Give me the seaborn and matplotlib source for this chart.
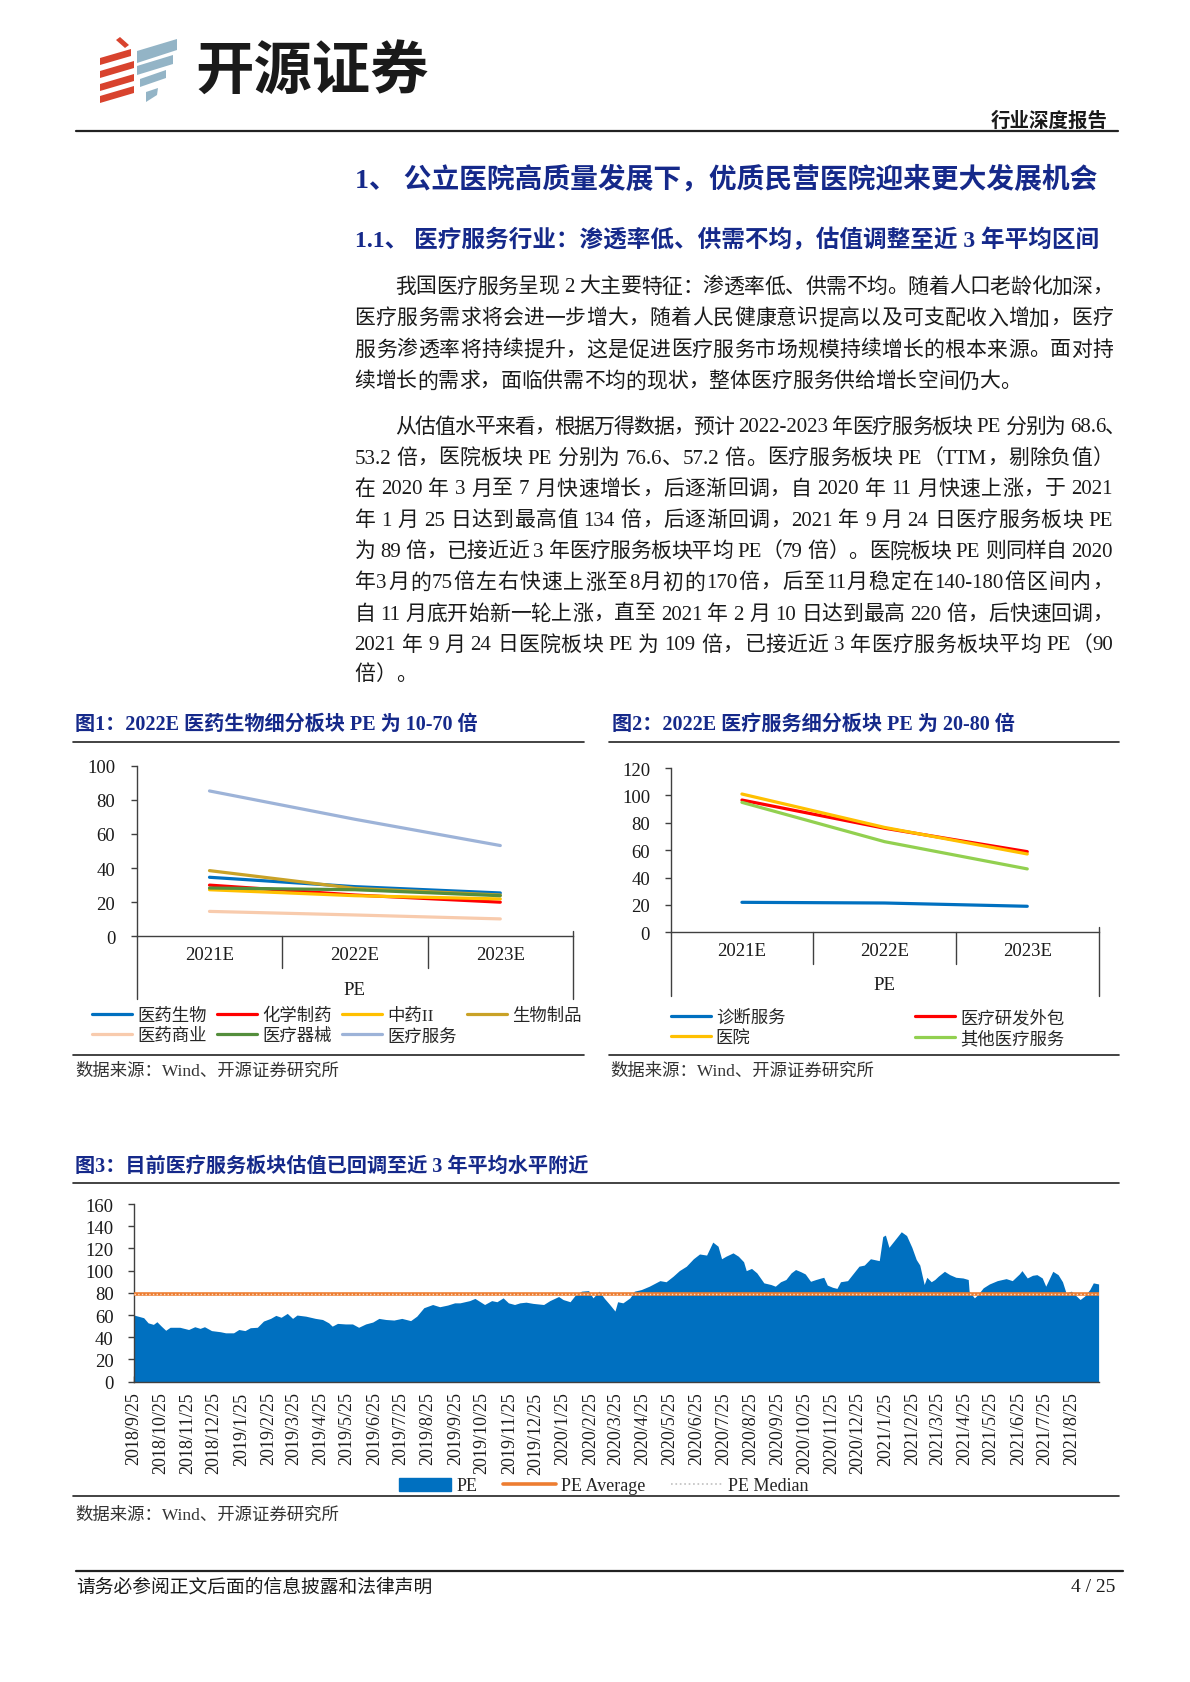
import re
import matplotlib
matplotlib.use('Agg')
import matplotlib.pyplot as plt
import matplotlib.transforms as mtransforms
from matplotlib.lines import Line2D
from matplotlib.patches import Polygon, Patch
import pandas as pd
import seaborn as sns

W, H = 1190, 1683

###############################################################################
# Data

# Figure 1: PE of pharma sub-sectors
years = ['2021E', '2022E', '2023E']
pharma_names = ['医药生物', '化学制药', '中药II', '生物制品', '医药商业', '医疗器械', '医疗服务']
pe_yiyao_shengwu = [34.6, 29.1, 25.4]
pe_huaxue_zhiyao = [30.0, 24.2, 20.0]
pe_zhongyao = [27.3, 23.8, 21.9]
pe_shengwu_zhipin = [38.5, 28.1, 24.2]
pe_yiyao_shangye = [14.6, 12.5, 10.2]
pe_yiliao_qixie = [28.3, 27.3, 23.8]
pe_yiliao_fuwu = [85.2, 68.6, 53.2]
pharma_colors = ['#0070C0', '#FF0000', '#FFC000', '#C9A227', '#F8CBAD', '#548E3C', '#9DB3D8']

# Figure 2: PE of medical service sub-sectors
service_names = ['诊断服务', '医疗研发外包', '医院', '其他医疗服务']
pe_zhenduan = [21.9, 21.4, 19.0]
pe_cro = [96.6, 76.0, 58.9]
pe_yiyuan = [101.0, 76.6, 57.2]
pe_qita = [94.9, 66.2, 46.3]
service_colors = ['#0070C0', '#FF0000', '#FFC000', '#92D050']

# Figure 3: medical service sector PE (TTM)
pe_dates = [
    '2018-09-25', '2018-10-06', '2018-10-11', '2018-10-17', '2018-10-21', '2018-10-26',
    '2018-10-31', '2018-11-05', '2018-11-16', '2018-11-26', '2018-12-03', '2018-12-09',
    '2018-12-14', '2018-12-22', '2019-01-01', '2019-01-07', '2019-01-16', '2019-01-22',
    '2019-01-29', '2019-02-04', '2019-02-12', '2019-02-19', '2019-02-27', '2019-03-05',
    '2019-03-11', '2019-03-18', '2019-03-24', '2019-03-29', '2019-04-08', '2019-04-19',
    '2019-04-27', '2019-05-04', '2019-05-08', '2019-05-14', '2019-05-23', '2019-05-31',
    '2019-06-07', '2019-06-15', '2019-06-23', '2019-06-30', '2019-07-08', '2019-07-17',
    '2019-07-26', '2019-08-05', '2019-08-12', '2019-08-20', '2019-08-30', '2019-09-07',
    '2019-09-16', '2019-09-24', '2019-09-30', '2019-10-11', '2019-10-17', '2019-10-22',
    '2019-10-28', '2019-11-05', '2019-11-11', '2019-11-18', '2019-11-24', '2019-12-01',
    '2019-12-07', '2019-12-14', '2019-12-22', '2020-01-03', '2020-01-10', '2020-01-20',
    '2020-01-25', '2020-02-02', '2020-02-08', '2020-02-15', '2020-02-23', '2020-02-28',
    '2020-03-06', '2020-03-12', '2020-03-18', '2020-03-24', '2020-03-27', '2020-04-02',
    '2020-04-10', '2020-04-15', '2020-04-23', '2020-05-02', '2020-05-14', '2020-05-21',
    '2020-05-29', '2020-06-05', '2020-06-13', '2020-06-21', '2020-06-28', '2020-07-06',
    '2020-07-13', '2020-07-19', '2020-07-23', '2020-07-28', '2020-08-05', '2020-08-11',
    '2020-08-17', '2020-08-20', '2020-08-26', '2020-09-01', '2020-09-09', '2020-09-17',
    '2020-09-22', '2020-09-28', '2020-10-04', '2020-10-10', '2020-10-15', '2020-10-21',
    '2020-10-26', '2020-11-01', '2020-11-07', '2020-11-13', '2020-11-16', '2020-11-20',
    '2020-11-26', '2020-12-01', '2020-12-05', '2020-12-13', '2020-12-19', '2020-12-26',
    '2021-01-01', '2021-01-08', '2021-01-18', '2021-01-22', '2021-01-25', '2021-01-29',
    '2021-02-04', '2021-02-12', '2021-02-18', '2021-02-24', '2021-03-01', '2021-03-05',
    '2021-03-10', '2021-03-13', '2021-03-18', '2021-03-22', '2021-03-26', '2021-04-02',
    '2021-04-08', '2021-04-15', '2021-04-23', '2021-04-29', '2021-04-30', '2021-05-06',
    '2021-05-10', '2021-05-16', '2021-05-23', '2021-06-01', '2021-06-11', '2021-06-18',
    '2021-06-26', '2021-06-29', '2021-07-05', '2021-07-11', '2021-07-16', '2021-07-22',
    '2021-07-26', '2021-08-03', '2021-08-09', '2021-08-14', '2021-08-18', '2021-08-24',
    '2021-08-30', '2021-09-03', '2021-09-08', '2021-09-14', '2021-09-18', '2021-09-24',
]
pe_values = [
    60.0, 57.6, 53.0, 51.6, 54.0, 50.0,
    46.3, 49.0, 49.0, 47.0, 49.5, 48.0,
    49.5, 46.0, 45.0, 44.0, 44.0, 47.0,
    46.0, 48.6, 49.0, 54.6, 57.0, 59.7,
    58.0, 61.5, 57.0, 60.0, 59.0, 57.0,
    56.0, 53.0, 50.0, 52.5, 52.0, 52.0,
    49.0, 52.0, 53.7, 57.0, 56.0, 55.5,
    57.0, 55.0, 59.0, 66.6, 69.5, 67.5,
    69.0, 71.0, 71.0, 73.0, 75.0, 72.5,
    69.5, 73.0, 72.0, 75.5, 71.0, 69.5,
    71.0, 71.6, 70.5, 69.5, 73.0, 76.7,
    74.0, 72.0, 78.0, 81.5, 82.0, 75.5,
    81.5, 75.0, 69.5, 63.6, 72.0, 71.0,
    75.5, 81.5, 83.0, 86.0, 91.0, 90.0,
    95.0, 100.0, 104.0, 110.7, 115.0, 114.0,
    125.7, 122.0, 110.7, 113.0, 116.0, 113.0,
    108.0, 100.0, 102.0, 98.0, 89.0, 87.5,
    86.0, 90.0, 92.0, 98.0, 101.0, 99.0,
    97.0, 90.4, 92.0, 93.4, 94.0, 87.0,
    85.0, 84.0, 90.0, 91.0, 97.0, 104.0,
    105.0, 110.7, 109.0, 130.7, 132.0, 121.0,
    127.0, 135.0, 131.6, 121.0, 110.0, 105.0,
    87.5, 94.0, 90.0, 92.0, 95.0, 99.4,
    96.4, 94.0, 93.4, 92.0, 81.5, 75.5,
    78.5, 84.5, 88.0, 91.0, 92.8, 91.0,
    97.0, 100.0, 93.4, 95.8, 96.4, 93.4,
    86.0, 99.4, 96.4, 90.0, 80.0, 81.5,
    77.0, 74.0, 77.0, 83.0, 89.0, 88.0,
]
pe_average = 79.0
pe_median = 78.8
pe_tick_labels = [
    '2018/9/25', '2018/10/25', '2018/11/25', '2018/12/25', '2019/1/25', '2019/2/25',
    '2019/3/25', '2019/4/25', '2019/5/25', '2019/6/25', '2019/7/25', '2019/8/25',
    '2019/9/25', '2019/10/25', '2019/11/25', '2019/12/25', '2020/1/25', '2020/2/25',
    '2020/3/25', '2020/4/25', '2020/5/25', '2020/6/25', '2020/7/25', '2020/8/25',
    '2020/9/25', '2020/10/25', '2020/11/25', '2020/12/25', '2021/1/25', '2021/2/25',
    '2021/3/25', '2021/4/25', '2021/5/25', '2021/6/25', '2021/7/25', '2021/8/25',
]

# Page text
para1 = [
    '我国医疗服务呈现 2 大主要特征：渗透率低、供需不均。随着人口老龄化加深，',
    '医疗服务需求将会进一步增大，随着人民健康意识提高以及可支配收入增加，医疗',
    '服务渗透率将持续提升，这是促进医疗服务市场规模持续增长的根本来源。面对持',
    '续增长的需求，面临供需不均的现状，整体医疗服务供给增长空间仍大。',
]
para2 = [
    '从估值水平来看，根据万得数据，预计 2022-2023 年医疗服务板块 PE 分别为 68.6、',
    '53.2 倍，医院板块 PE 分别为 76.6、57.2 倍。医疗服务板块 PE（TTM，剔除负值）',
    '在 2020 年 3 月至 7 月快速增长，后逐渐回调，自 2020 年 11 月快速上涨，于 2021',
    '年 1 月 25 日达到最高值 134 倍，后逐渐回调，2021 年 9 月 24 日医疗服务板块 PE',
    '为 89 倍，已接近近 3 年医疗服务板块平均 PE（79 倍）。医院板块 PE 则同样自 2020',
    '年3月的75倍左右快速上涨至8月初的170倍，后至11月稳定在140-180倍区间内，',
    '自 11 月底开始新一轮上涨，直至 2021 年 2 月 10 日达到最高 220 倍，后快速回调，',
    '2021 年 9 月 24 日医院板块 PE 为 109 倍，已接近近 3 年医疗服务板块平均 PE（90',
    '倍）。',
]

###############################################################################
# Page setup

sns.set_theme(style='white')
plt.rcParams['font.family'] = ['Liberation Serif', 'Noto Sans CJK SC', 'DejaVu Sans']
plt.rcParams['axes.unicode_minus'] = False

SERIF = ['Liberation Serif', 'Noto Sans CJK SC']
CJK = ['Noto Sans CJK SC', 'DejaVu Sans']
NAVY = '#15298A'
INK = '#1a1a1a'

fig = plt.figure(figsize=(W / 100, H / 100), dpi=100)
fig.patch.set_facecolor('white')
renderer = fig.canvas.get_renderer()


def fx(x):
    return x / W


def fy(y):
    return 1 - y / H


def rect(x0, y0, x1, y1):
    return [fx(x0), fy(y1), (x1 - x0) / W, (y1 - y0) / H]


def hline(x0, x1, y, lw=1.2, color='#222222'):
    fig.add_artist(Line2D([fx(x0), fx(x1)], [fy(y), fy(y)],
                          transform=fig.transFigure, lw=lw, color=color))


def text_line(s, x0, x1, y, size=15, justify=True):
    '''Draws one body line, spreading the tokens so it fills x0..x1.'''
    px = size / 72 * 100
    pieces = []
    for ci, chunk in enumerate(s.split(' ')):
        for ti, tok in enumerate(re.findall(r'[!-~]+|\S', chunk)):
            pieces.append((tok, ci > 0 and ti == 0))
    arts, widths = [], []
    for tok, _ in pieces:
        t = fig.text(0, fy(y), tok, fontsize=size, family=SERIF, color=INK, va='center')
        arts.append(t)
        if re.match(r'[!-~]', tok):
            widths.append(t.get_window_extent(renderer).width)
        else:
            widths.append(px)
    sp = px * 0.25
    natural = sum(widths) + sp * sum(p[1] for p in pieces)
    gaps = len(pieces) - 1
    extra = (x1 - x0 - natural) / gaps if (justify and gaps) else 0
    x = x0
    for i, (t, w) in enumerate(zip(arts, widths)):
        if i:
            x += extra + (sp if pieces[i][1] else 0)
        t.set_x(fx(x))
        x += w


###############################################################################
# Header

red_bars = [
    [(116, 41), (120, 38), (129, 46), (125, 49)],
    [(100, 66), (100, 59), (131, 50), (131, 57)],
    [(100, 79), (100, 72), (134, 62), (134, 69)],
    [(100, 92), (100, 85), (134, 75), (134, 82)],
    [(100, 104), (100, 97), (134, 87), (134, 94)],
]
blue_bars = [
    [(137, 64), (137, 52), (177, 40), (177, 51)],
    [(137, 76), (137, 67), (173, 56), (173, 65)],
    [(140, 88), (140, 80), (166, 71), (166, 79)],
    [(146, 103), (146, 93), (158, 89), (157, 96)],
]
for pts in red_bars:
    fig.add_artist(Polygon([(fx(a), fy(b)) for a, b in pts], closed=True,
                           transform=fig.transFigure, color='#D8432E', lw=0))
for pts in blue_bars:
    fig.add_artist(Polygon([(fx(a), fy(b)) for a, b in pts], closed=True,
                           transform=fig.transFigure, color='#93B4C6', lw=0))

fig.text(fx(195), fy(72), '开源证券', fontsize=42, weight='bold', family=CJK,
         color=INK, va='center')
fig.text(fx(1108), fy(121.7), '行业深度报告', fontsize=14, weight='bold', family=CJK,
         color=INK, ha='right', va='center')
hline(76, 1118, 132.3, lw=1.6)

fig.text(fx(355), fy(180), '1、 公立医院高质量发展下，优质民营医院迎来更大发展机会',
         fontsize=20, weight='bold', family=SERIF, color=NAVY, va='center')
fig.text(fx(355), fy(240), '1.1、 医疗服务行业：渗透率低、供需不均，估值调整至近 3 年平均区间',
         fontsize=17, weight='bold', family=SERIF, color=NAVY, va='center')

###############################################################################
# Body text

p1_y = [288, 319.5, 351, 382.5]
p2_y = [428, 459, 490, 521.5, 552.5, 583.5, 615, 646, 675]
for i, (line, y) in enumerate(zip(para1, p1_y)):
    text_line(line, 395 if i == 0 else 354.5, 1113, y, justify=i < len(para1) - 1)
for i, (line, y) in enumerate(zip(para2, p2_y)):
    right = 1126 if i == 0 else 1113
    text_line(line, 395 if i == 0 else 354.5, right, y, justify=i < len(para2) - 1)

###############################################################################
# Figures 1 and 2: line charts with a two-level category axis


def category_chart(box, names, series, colors, ymax, ystep, sep_low, out_low, pe_y,
                   legend_order, legend_anchor, ncol, colspace, ypad):
    ax = fig.add_axes(rect(*box))
    rows = [(n, yr, v) for n, vals in zip(names, series) for yr, v in zip(years, vals)]
    df = pd.DataFrame(rows, columns=['sector', 'year', 'pe'])
    sns.lineplot(data=df, x='year', y='pe', hue='sector', palette=dict(zip(names, colors)),
                 lw=2.3, sort=False, legend=False, ax=ax)
    ax.set_xlim(-0.5, len(years) - 0.5)
    ax.set_ylim(0, ymax)
    ax.set_yticks(range(0, ymax + 1, ystep))
    ax.set_ylabel('')
    ax.set_xlabel('PE', fontsize=13.5, family=SERIF, color=INK)
    ax.xaxis.label.set_va('center')
    ax.xaxis.set_label_coords(0.5, (box[3] - pe_y) / (box[3] - box[1]))
    for s in ['top', 'right']:
        ax.spines[s].set_visible(False)
    for s in ['left', 'bottom']:
        ax.spines[s].set_color('#404040')
        ax.spines[s].set_linewidth(1)
    ax.tick_params(axis='y', direction='out', length=4, width=1, color='#404040',
                   pad=ypad, labelsize=13.5, labelcolor=INK, left=True)
    ax.tick_params(axis='x', length=0, pad=7, labelsize=13.5, labelcolor=INK)
    for lab in ax.get_xticklabels() + ax.get_yticklabels():
        lab.set_family(SERIF)
    ax.grid(False)
    trans = mtransforms.blended_transform_factory(ax.transData, fig.transFigure)
    for k in range(len(years) + 1):
        xb = k - 0.5
        if k in (0, len(years)):
            y0 = box[3] if k == 0 else box[3] - 5
            ax.add_artist(Line2D([xb, xb], [fy(y0), fy(out_low)], transform=trans,
                                 color='#404040', lw=1, clip_on=False))
        else:
            ax.add_artist(Line2D([xb, xb], [fy(box[3]), fy(sep_low)], transform=trans,
                                 color='#404040', lw=1, clip_on=False))
    handles = [Line2D([], [], color=colors[i], lw=2.3) for i in legend_order]
    labels = [names[i] for i in legend_order]
    fig.legend(handles, labels, loc='center left', bbox_to_anchor=legend_anchor, ncol=ncol,
               frameon=False, prop=dict(family=SERIF, size=12.5), handlelength=2.3,
               handletextpad=0.3, columnspacing=colspace, labelspacing=0.25,
               borderpad=0, borderaxespad=0)
    return ax


fig.text(fx(75), fy(725), '图1：2022E 医药生物细分板块 PE 为 10-70 倍', fontsize=14.5,
         weight='bold', family=SERIF, color=NAVY, va='center')
hline(73, 584, 743)
category_chart((136.8, 766.7, 573, 937.3), pharma_names,
               [pe_yiyao_shengwu, pe_huaxue_zhiyao, pe_zhongyao, pe_shengwu_zhipin,
                pe_yiyao_shangye, pe_yiliao_qixie, pe_yiliao_fuwu],
               pharma_colors, 100, 20, 969, 1000, 991,
               [0, 4, 1, 5, 2, 6, 3], (fx(92), fy(1027)), 4, 0.6, 11.5)
hline(73, 584, 1056)
fig.text(fx(75), fy(1072), '数据来源：Wind、开源证券研究所', fontsize=12.5, family=SERIF,
         color='#333333', va='center')

fig.text(fx(612), fy(725), '图2：2022E 医疗服务细分板块 PE 为 20-80 倍', fontsize=14.5,
         weight='bold', family=SERIF, color=NAVY, va='center')
hline(609, 1119, 743)
category_chart((670.6, 769, 1098.6, 933.3), service_names,
               [pe_zhenduan, pe_cro, pe_yiyuan, pe_qita],
               service_colors, 120, 20, 965, 996.7, 986,
               [0, 2, 1, 3], (fx(670.6), fy(1029)), 2, 7.5, 10.8)
hline(609, 1119, 1056)
fig.text(fx(610), fy(1072), '数据来源：Wind、开源证券研究所', fontsize=12.5, family=SERIF,
         color='#333333', va='center')

###############################################################################
# Figure 3: PE area chart

fig.text(fx(75), fy(1167), '图3：目前医疗服务板块估值已回调至近 3 年平均水平附近', fontsize=14.5,
         weight='bold', family=SERIF, color=NAVY, va='center')
hline(73, 1119, 1184)

ax3 = fig.add_axes(rect(134, 1205, 1098.6, 1382.7))
dates = pd.to_datetime(pe_dates)
ax3.fill_between(dates, pe_values, color='#0070C0', lw=0, zorder=1)
span = [dates[0], dates[-1]]
sns.lineplot(x=span, y=[pe_average, pe_average], color='#ED7D31', lw=2.6, ax=ax3, zorder=3)
sns.lineplot(x=span, y=[pe_median, pe_median], color='#FBE0CC', lw=1.0, ls=':', ax=ax3,
             zorder=4)
ax3.set_xlim(span)
ax3.set_ylim(0, 160)
ax3.set_yticks(range(0, 161, 20))
ticks = pd.to_datetime(pe_tick_labels, format='%Y/%m/%d')
ax3.set_xticks(ticks)
ax3.set_xticklabels(pe_tick_labels, rotation=90, fontsize=13, family=SERIF, color=INK)
for lab in ax3.get_yticklabels():
    lab.set_family(SERIF)
ax3.tick_params(axis='x', direction='in', length=4, width=1, color='#1a1a1a', pad=7,
                bottom=True)
ax3.tick_params(axis='y', direction='out', length=4, width=1, color='#404040', pad=10.6,
                labelsize=13.5, labelcolor=INK, left=True)
for s in ['top', 'right']:
    ax3.spines[s].set_visible(False)
for s in ['left', 'bottom']:
    ax3.spines[s].set_color('#404040')
    ax3.spines[s].set_linewidth(1)
ax3.grid(False)

fig.legend([Patch(color='#0070C0'), Line2D([], [], color='#ED7D31', lw=2.6),
            Line2D([], [], color='#BFBFBF', lw=1.2, ls=':')],
           ['PE', 'PE Average', 'PE Median'], loc='center', bbox_to_anchor=(fx(604), fy(1487)),
           ncol=3, frameon=False, prop=dict(family=SERIF, size=13), handlelength=2.9,
           handletextpad=0.3, columnspacing=1.4, borderpad=0, borderaxespad=0)
hline(73, 1119, 1497)
fig.text(fx(75), fy(1516), '数据来源：Wind、开源证券研究所', fontsize=12.5, family=SERIF,
         color='#333333', va='center')

###############################################################################
# Footer

hline(76, 1123, 1572, lw=1.6)
fig.text(fx(76), fy(1588), '请务必参阅正文后面的信息披露和法律声明', fontsize=13.5, family=SERIF,
         color=INK, va='center')
fig.text(fx(1115), fy(1588), '4 / 25', fontsize=14, family=SERIF, color=INK,
         ha='right', va='center')

fig.savefig('out.png', dpi=100, facecolor='white')
